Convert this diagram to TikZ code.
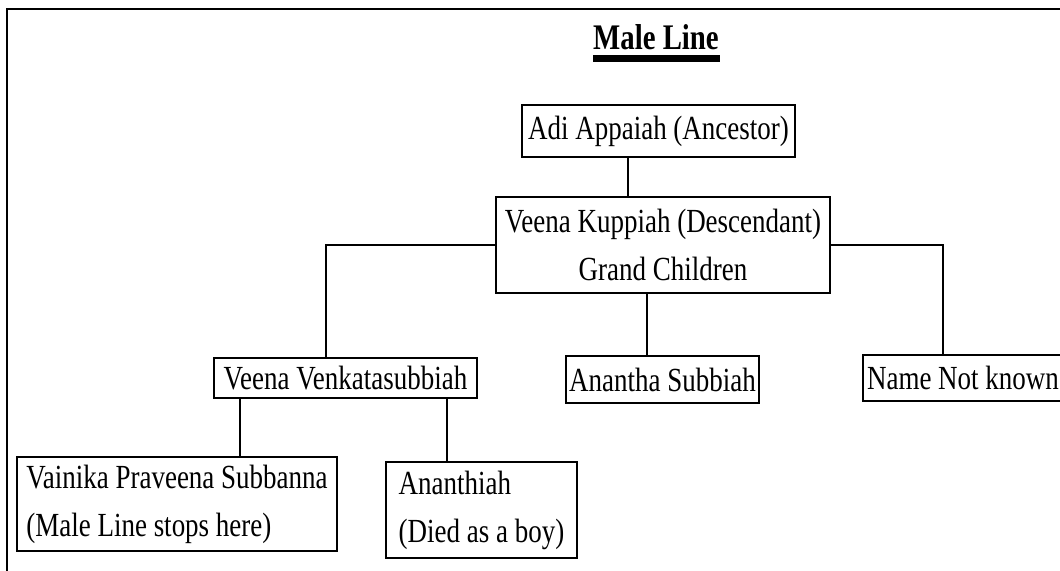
\documentclass[tikz,border=0pt]{standalone}
\usepackage{fontspec}
\setmainfont{Liberation Serif}[FakeStretch=0.8]

\begin{document}
\begin{tikzpicture}[x=0.75pt,y=-0.75pt,
  font=\fontsize{25.3}{36}\selectfont,
  person/.style={draw, line width=1.4pt, inner sep=0pt, align=center},
  link/.style={line width=1.4pt}]
\useasboundingbox (0,0) rectangle (1060,571);
\draw[line width=1.8pt] (7,571) -- (7,9) -- (1060,9);
\node[font=\fontsize{27}{36}\selectfont\bfseries] (title) at (656,37) {Male Line};
\fill (593,55) rectangle (720,62);
\node[person, minimum width=204.75pt, minimum height=39pt] (adi) at (658.5,131) {Adi Appaiah (Ancestor)};
\node[person, minimum width=250.5pt, minimum height=72pt] (kuppiah) at (663,245) {Veena Kuppiah (Descendant)\\Grand Children};
\node[person, minimum width=197.25pt, minimum height=30pt] (venk) at (345.5,378) {Veena Venkatasubbiah};
\node[person, minimum width=144.75pt, minimum height=35.25pt] (anantha) at (662.5,379.5) {Anantha Subbiah};
\node[person, minimum width=150pt, minimum height=34.5pt] (namenk) at (963,378) {Name Not known};
\node[person, minimum width=240pt, minimum height=70.5pt, align=left] (vainika) at (177,504) {Vainika Praveena Subbanna\\(Male Line stops here)};
\node[person, minimum width=143.25pt, minimum height=72pt, align=left] (ananthiah) at (481.5,510) {Ananthiah\\(Died as a boy)};
\coordinate (c1) at (628,0);
\coordinate (c2) at (326,0);
\coordinate (c3) at (943,0);
\coordinate (c4) at (647,0);
\coordinate (c5) at (240,0);
\coordinate (c6) at (447,0);
\draw[link] (adi.south -| c1) -- (kuppiah.north -| c1);
\draw[link] (kuppiah.west) -| (venk.north -| c2);
\draw[link] (kuppiah.east) -| (namenk.north -| c3);
\draw[link] (kuppiah.south -| c4) -- (anantha.north -| c4);
\draw[link] (venk.south -| c5) -- (vainika.north -| c5);
\draw[link] (venk.south -| c6) -- (ananthiah.north -| c6);
\end{tikzpicture}
\end{document}
